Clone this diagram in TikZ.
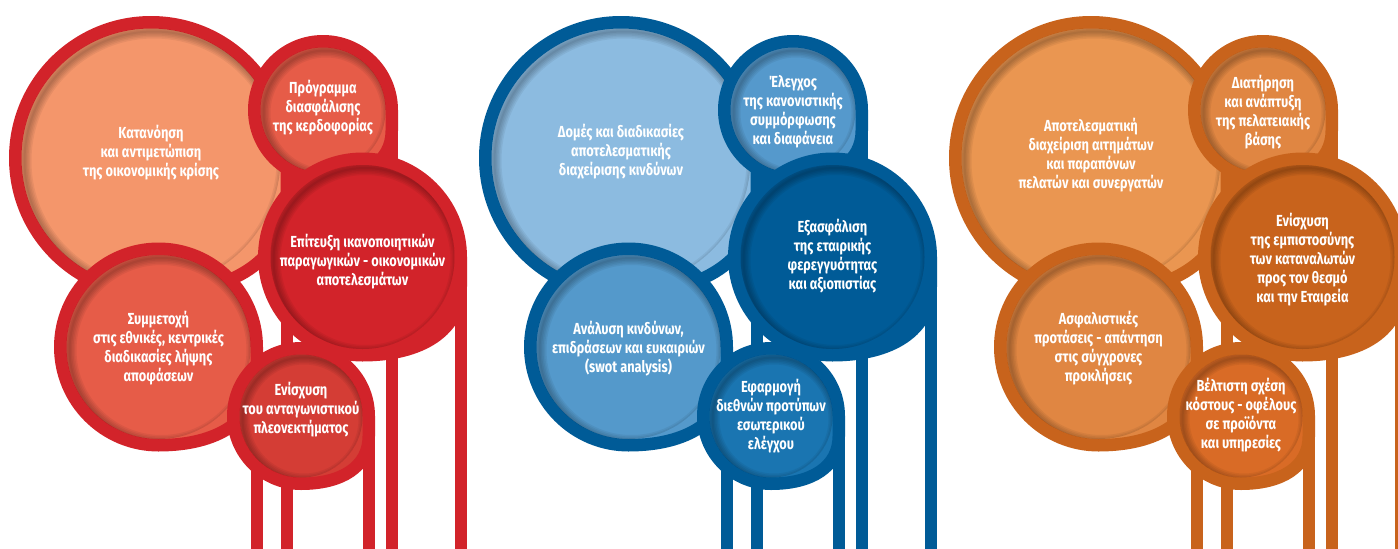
\documentclass[tikz,border=0pt]{standalone}
\usepackage{fontspec}
\newfontfamily\bubfont{Fira Sans}[FakeStretch=0.8]
\definecolor{redBd}{HTML}{D2232A}
\definecolor{redA}{HTML}{F4966B}
\definecolor{redB}{HTML}{E65C48}
\definecolor{redC}{HTML}{E65C48}
\definecolor{redD}{HTML}{D2232A}
\definecolor{redE}{HTML}{D43D35}
\definecolor{bluBd}{HTML}{005B97}
\definecolor{bluA}{HTML}{8CBBE0}
\definecolor{bluB}{HTML}{5599CC}
\definecolor{bluC}{HTML}{5499CB}
\definecolor{bluD}{HTML}{005B97}
\definecolor{bluE}{HTML}{1A75B1}
\definecolor{orgBd}{HTML}{C8631C}
\definecolor{orgA}{HTML}{EA9651}
\definecolor{orgB}{HTML}{E08642}
\definecolor{orgC}{HTML}{E08642}
\definecolor{orgD}{HTML}{C8631C}
\definecolor{orgE}{HTML}{D96B26}
\tikzset{bubtxt/.style={text=white, align=center, inner sep=0pt,
  font=\bubfont\bfseries\fontsize{16}{19}\selectfont}}
% #1 name, #2 cx, #3 cy, #4 outer radius, #5 text y, #6 fill, #7 border, #8 text
\newcommand\bub[8]{%
  \pgfmathsetmacro\rr{#4-6.25}%
  \pgfmathsetmacro\ri{#4-12.5}%
  \path[draw=#7, fill=#6, line width=12.5pt, line join=round]
    ({#2+\rr},#3) arc[start angle=0, end angle=-270, radius=\rr]
    .. controls ({#2+0.6*\rr},{#3+\rr}) and ({#2+\rr},{#3+0.75*\rr}) .. ({#2+\rr},{#3+0.3*\rr}) -- cycle;
  \begin{scope}
    \clip (#2,#3) circle[radius=\ri];
    \foreach \lw in {2,5,8,11,14}{\draw[black, opacity=0.055, line width=\lw pt] ({#2+3},{#3+3}) circle[radius=\ri];}
  \end{scope}
  \draw[#7, line width=12.5pt] ({#2+\rr},#3) -- ({#2+\rr},600);
  \node[bubtxt] (#1) at (#2,#5) {#8};
}
\begin{document}
\begin{tikzpicture}[x=1pt, y=-1pt]
\useasboundingbox (0,0) rectangle (1398,549);
\clip (0,0) rectangle (1398,549);
% red group
\bub{rA}{151}{158}{142}{153}{redA}{redBd}{Κατανόηση\\και αντιμετώπιση\\της οικονομικής κρίσης}
\bub{rB}{323}{110}{75}{108}{redB}{redBd}{Πρόγραμμα\\διασφάλισης\\της κερδοφορίας}
\bub{rC}{158.5}{347}{104.5}{348}{redC}{redBd}{Συμμετοχή\\στις εθνικές, κεντρικές\\διαδικασίες λήψης\\αποφάσεων}
\bub{rD}{362.5}{257}{104.5}{262}{redD}{redBd}{Επίτευξη ικανοποιητικών\\παραγωγικών - οικονομικών\\αποτελεσμάτων}
\bub{rE}{301}{416}{74}{410}{redE}{redBd}{Ενίσχυση\\του ανταγωνιστικού\\πλεονεκτήματος}
% blue group
\begin{scope}[xshift=470pt]
\bub{bA}{151}{158}{142}{152}{bluA}{bluBd}{Δομές και διαδικασίες\\αποτελεσματικής\\διαχείρισης κινδύνων}
\bub{bB}{323}{110}{75}{112}{bluB}{bluBd}{Έλεγχος\\της κανονιστικής\\συμμόρφωσης\\και διαφάνεια}
\bub{bC}{158.5}{347}{104.5}{349}{bluC}{bluBd}{Ανάλυση κινδύνων,\\επιδράσεων και ευκαιριών\\(swot analysis)}
\bub{bD}{362.5}{257}{104.5}{256}{bluD}{bluBd}{Εξασφάλιση\\της εταιρικής\\φερεγγυότητας\\και αξιοπιστίας}
\bub{bE}{301}{416}{74}{416}{bluE}{bluBd}{Εφαρμογή\\διεθνών προτύπων\\εσωτερικού\\ελέγχου}
\end{scope}
% orange group
\begin{scope}[xshift=940pt]
\bub{oA}{151}{158}{142}{155}{orgA}{orgBd}{Αποτελεσματική\\διαχείριση αιτημάτων\\και παραπόνων\\πελατών και συνεργατών}
\bub{oB}{323}{110}{75}{112}{orgB}{orgBd}{Διατήρηση\\και ανάπτυξη\\της πελατειακής\\βάσης}
\bub{oC}{158.5}{347}{104.5}{348}{orgC}{orgBd}{Ασφαλιστικές\\προτάσεις - απάντηση\\στις σύγχρονες\\προκλήσεις}
\bub{oD}{362.5}{257}{104.5}{260}{orgD}{orgBd}{Ενίσχυση\\της εμπιστοσύνης\\των καταναλωτών\\προς τον θεσμό\\και την Εταιρεία}
\bub{oE}{301}{416}{74}{415}{orgE}{orgBd}{Βέλτιστη σχέση\\κόστους - οφέλους\\σε προϊόντα\\και υπηρεσίες}
\end{scope}
\end{tikzpicture}
\end{document}
